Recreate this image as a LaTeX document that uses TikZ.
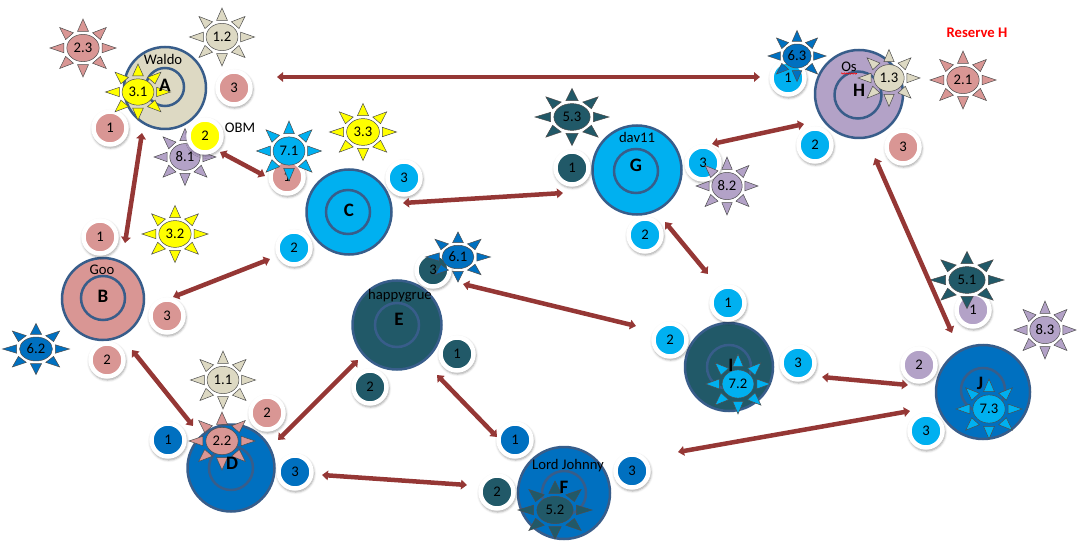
\documentclass[tikz,border=0pt]{standalone}
\usepackage{fontspec}
\setmainfont{Carlito}
\usetikzlibrary{arrows.meta, shapes.geometric, shadows.blur, decorations.pathmorphing}
\definecolor{cBeige}{RGB}{221,217,195}
\definecolor{cPink}{RGB}{217,150,148}
\definecolor{cYellow}{RGB}{255,255,0}
\definecolor{cTeal}{RGB}{33,89,104}
\definecolor{cBlue}{RGB}{0,112,192}
\definecolor{cCyan}{RGB}{0,176,240}
\definecolor{cPurple}{RGB}{179,162,199}
\definecolor{cRim}{RGB}{56,93,138}
\definecolor{cLink}{RGB}{149,55,53}
\tikzset{
	hub/.style={circle, draw=cRim, line width=2.5pt, inner sep=0pt},
	ring/.style={circle, draw=cRim, line width=2.5pt, minimum size=44, inner sep=0pt},
	hubname/.style={font=\fontsize{19}{21}\selectfont\bfseries, inner sep=0pt},
	nick/.style={font=\fontsize{14.67}{16}\selectfont, inner sep=0pt},
	port/.style={circle, draw=white, line width=4.5pt, minimum size=33, inner sep=0pt, font=\fontsize{14.67}{16}\selectfont,
		blur shadow={shadow xshift=0.6pt, shadow yshift=-1.4pt, shadow scale=1.12, shadow blur radius=2pt, shadow opacity=35}},
	sunbody/.style={ellipse, draw=black!70, line width=0.5pt, inner sep=0pt, font=\fontsize{14.67}{16}\selectfont},
	sunray/.style={draw=black!70, line width=0.5pt, line join=miter},
	linkarrow/.style={{Triangle[length=6pt,width=9.5pt]}-{Triangle[length=6pt,width=9.5pt]}, line width=4.5pt, draw=cLink},
}
\begin{document}
\begin{tikzpicture}[x=1pt, y=-1pt]
	\useasboundingbox (0,0) rectangle (1086,553);
	% hosts
	\node[hub, fill=cBeige, minimum size=82] (a) at (165,88) {};
	\node[hub, fill=cPink, minimum size=82] (b) at (103,299) {};
	\node[hub, fill=cCyan, minimum size=85] (c) at (349,212) {};
	\node[hub, fill=cBlue, minimum size=87] (d) at (231,468) {};
	\node[hub, fill=cTeal, minimum size=89] (e) at (397,325) {};
	\node[hub, fill=cBlue, minimum size=92] (f) at (564,493) {};
	\node[hub, fill=cCyan, minimum size=89] (g) at (637,170) {};
	\node[hub, fill=cPurple, minimum size=88] (h) at (859,94) {};
	\node[hub, fill=cTeal, minimum size=88] (i) at (729,367) {};
	\node[hub, fill=cBlue, minimum size=94] (j) at (983,392) {};
	\node[ring, minimum size=38] (ra) at (165,87) {};
	\node[ring] (rb) at (103,298) {};
	\node[ring] (rc) at (348,212) {};
	\node[ring] (rd) at (231,468) {};
	\node[ring] (re) at (397,325) {};
	\node[ring] (rf) at (564,493) {};
	\node[ring] (rg) at (636,171) {};
	\node[ring, minimum size=47] (rh) at (858,95) {};
	\node[ring] (ri) at (729,367) {};
	\node[ring] (rj) at (983,390) {};
	% owner names
	\node[nick] (nwaldo) at (163,59) {Waldo};
	\node[nick] (ngoo) at (102,270) {Goo};
	\node[nick] (ndav) at (637,137) {dav11};
	\node[nick] (nhappy) at (400,296) {happygrue};
	\node[nick] (nlord) at (568,466) {Lord Johnny};
	\node[nick] (nos) at (849,67) {Os};
	\draw[red, line width=0.6pt, decorate, decoration={snake, amplitude=0.7pt, segment length=2.5pt}]
		([yshift=-1.5pt]nos.south west) -- ([yshift=-1.5pt]nos.south east);
	\node[nick] (obm) at (240,128) {OBM};
	\node[nick, text=red, font=\fontsize{14.67}{16}\selectfont\bfseries] (reserve) at (977,33) {Reserve H};
	% ports
	\node[port, fill=cPink] (a1) at (110,128) {1};
	\node[port, fill=cPink] (a3) at (234,88) {3};
	\node[port, fill=cPink] (b1) at (100,237) {1};
	\node[port, fill=cPink] (b2) at (107,360) {2};
	\node[port, fill=cPink] (b3) at (167,316) {3};
	\node[port, fill=cPink] (c1) at (287,177) {1};
	\node[port, fill=cCyan] (c2) at (294,248) {2};
	\node[port, fill=cCyan] (c3) at (404,178) {3};
	\node[port, fill=cBlue] (d1) at (168,440) {1};
	\node[port, fill=cPink] (d2) at (267,413) {2};
	\node[port, fill=cBlue] (d3) at (295,472) {3};
	\node[port, fill=cTeal] (e1) at (457,354) {1};
	\node[port, fill=cTeal] (e2) at (370,387) {2};
	\node[port, fill=cTeal] (e3) at (433,270) {3};
	\node[port, fill=cBlue] (f1) at (515,440) {1};
	\node[port, fill=cTeal] (f2) at (497,492) {2};
	\node[port, fill=cBlue] (f3) at (632,471) {3};
	\node[port, fill=cTeal] (g1) at (572,168) {1};
	\node[port, fill=cCyan] (g2) at (645,235) {2};
	\node[port, fill=cCyan] (g3) at (703,163) {3};
	\node[port, fill=cCyan] (h1) at (788,78) {1};
	\node[port, fill=cCyan] (h2) at (815,145) {2};
	\node[port, fill=cPink] (h3) at (903,147) {3};
	\node[port, fill=cCyan] (i1) at (728,303) {1};
	\node[port, fill=cCyan] (i2) at (670,340) {2};
	\node[port, fill=cCyan] (i3) at (798,363) {3};
	\node[port, fill=cPurple] (j1) at (973,310) {1};
	\node[port, fill=cPurple] (j2) at (919,365) {2};
	\node[port, fill=cCyan] (j3) at (926,431) {3};
	% suns
	\foreach \nm/\px/\py/\col/\rx/\ry/\txt in {
		s11/223/380/cBeige/32.5/29/1.1, s12/222/37/cBeige/32.5/29/1.2, s13/889/78/cBeige/31/28.5/1.3,
		s21/963/80/cPink/33/29/2.1, s22/222/441/cPink/33/29/2.2, s23/83/48/cPink/33/29/2.3,
		s31/138/92/cYellow/32.5/28/3.1, s32/175/234/cYellow/33/28.5/3.2, s33/363/132/cYellow/33.5/28.5/3.3,
		s51/967/280/cTeal/37/28.5/5.1, s52/555/510/cTeal/37/29/5.2, s53/572/117/cTeal/37/28.5/5.3,
		s61/458/257/cBlue/32.5/25/6.1, s62/36/349/cBlue/33.5/25.5/6.2, s63/797/56/cBlue/29/25.5/6.3,
		s71/289/151/cCyan/32.5/30/7.1, s72/738/384/cCyan/32.5/30/7.2, s73/989/409/cCyan/33/30/7.3,
		s81/185/157/cPurple/31/28.5/8.1, s82/727/186/cPurple/31/29/8.2, s83/1045/330/cPurple/31/29/8.3}{
		\begin{scope}[shift={(\px,\py)}, x=\rx pt, y=\ry pt]
			\foreach \a in {0,45,...,315}
				\draw[sunray, fill=\col] (\a-16:0.6) -- (\a:1) -- (\a+16:0.6) -- cycle;
		\end{scope}
		\pgfmathsetmacro\bw{0.98*\rx}
		\pgfmathsetmacro\bh{0.94*\ry}
		\node[sunbody, fill=\col, minimum width=\bw, minimum height=\bh] (\nm) at (\px,\py) {\txt};
	}
	\node[port, fill=cYellow] (a2) at (205,136) {2};
	% host letters
	\node[hubname] (la) at (165,85) {A};
	\node[hubname] (lb) at (103,296) {B};
	\node[hubname] (lc) at (349,210) {C};
	\node[hubname] (ld) at (232,463) {D};
	\node[hubname] (le) at (399,319) {E};
	\node[hubname] (lf) at (564,487) {F};
	\node[hubname] (lg) at (636,165) {G};
	\node[hubname] (lh) at (859,90) {H};
	\node[hubname] (li) at (731,365) {I};
	\node[hubname] (lj) at (980,383) {J};
	% links
	\draw[linkarrow] ([shift={(43,-11)}]a3.center) -- ([shift={(-28,-1)}]h1.center);
	\draw[linkarrow] ([shift={(-23,45)}]a.center) -- ([shift={(25,6)}]b1.center);
	\draw[linkarrow] ([shift={(15,16)}]a2.center) -- ([shift={(-22,-1)}]c1.center);
	\draw[linkarrow] ([shift={(6,-19)}]b3.center) -- ([shift={(-24,11)}]c2.center);
	\draw[linkarrow] ([shift={(-1,25)}]c3.center) -- ([shift={(-9,25)}]g1.center);
	\draw[linkarrow] ([shift={(9,-19)}]g3.center) -- ([shift={(-11,-21)}]h2.center);
	\draw[linkarrow] ([shift={(20,-13)}]g2.center) -- ([shift={(-20,-29)}]i1.center);
	\draw[linkarrow] ([shift={(30,14)}]e3.center) -- ([shift={(-34,-14)}]i2.center);
	\draw[linkarrow] ([shift={(-28,11)}]h3.center) -- ([shift={(-31,-59)}]j.center);
	\draw[linkarrow] ([shift={(24,14)}]i3.center) -- ([shift={(-11,20)}]j2.center);
	\draw[linkarrow] ([shift={(46,-19)}]f3.center) -- ([shift={(-16,-20)}]j3.center);
	\draw[linkarrow] ([shift={(25,-10)}]b2.center) -- ([shift={(25,-14)}]d1.center);
	\draw[linkarrow] ([shift={(11,27)}]d2.center) -- ([shift={(-12,-27)}]e2.center);
	\draw[linkarrow] ([shift={(27,3)}]d3.center) -- ([shift={(-30,-7)}]f2.center);
	\draw[linkarrow] ([shift={(-20,21)}]e1.center) -- ([shift={(-18,-3)}]f1.center);
\end{tikzpicture}
\end{document}
